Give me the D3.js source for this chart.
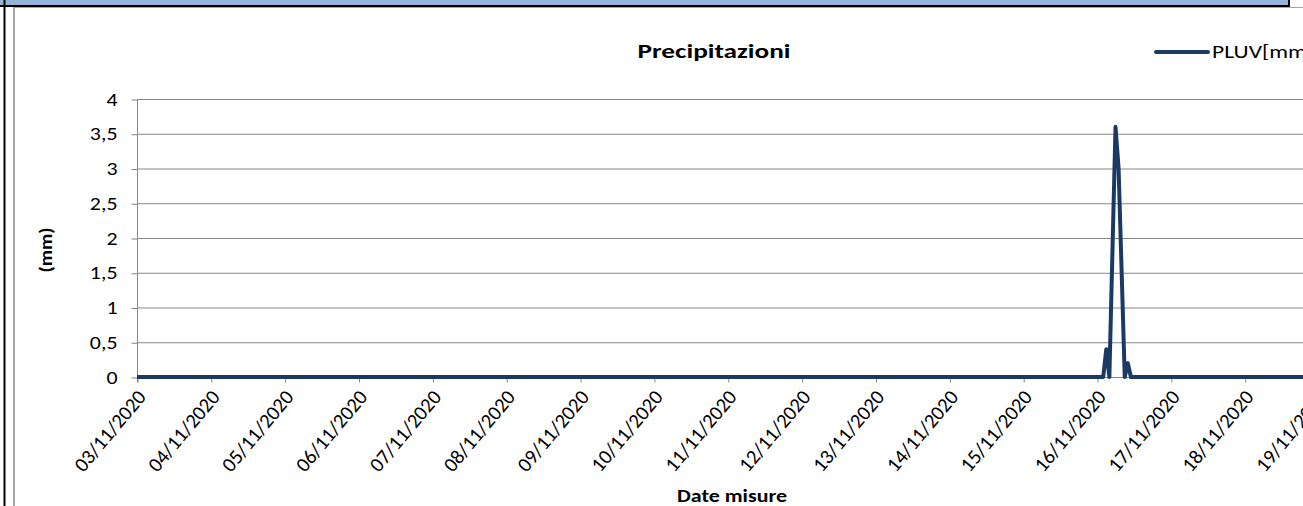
<!DOCTYPE html>
<html><head><meta charset="utf-8">
<script src="https://cdn.jsdelivr.net/npm/d3@7/dist/d3.min.js"></script>
<style>
html,body{margin:0;padding:0;background:#fff;overflow:hidden;}
svg{display:block;font-family:Carlito,Calibri,Lato,"Open Sans",sans-serif;}
</style></head>
<body>
<svg id="c" width="1303" height="506"></svg>
<script>
// ---- data ----
const chartTitle = "Precipitazioni";
const seriesName = "PLUV[mm]";
const yTitle = "(mm)";
const xTitle = "Date misure";
const times = ["2020-11-03T00:00","2020-11-16T02:00","2020-11-16T03:00","2020-11-16T04:00","2020-11-16T06:00","2020-11-16T07:00","2020-11-16T09:00","2020-11-16T10:00","2020-11-16T11:00","2020-11-19T12:00"];
const values = [0,0,0.4,0,3.6,3.0,0,0.2,0,0];
const yTicks = [0,0.5,1,1.5,2,2.5,3,3.5,4];
const xTickDates = ["2020-11-03","2020-11-04","2020-11-05","2020-11-06","2020-11-07","2020-11-08","2020-11-09","2020-11-10","2020-11-11","2020-11-12","2020-11-13","2020-11-14","2020-11-15","2020-11-16","2020-11-17","2020-11-18","2020-11-19"];

const svg = d3.select("#c");
const parse = d3.timeParse("%Y-%m-%dT%H:%M");
const parseD = d3.timeParse("%Y-%m-%d");
const fmt = d3.timeFormat("%d/%m/%Y");
const data = times.map((t,i)=>({t:parse(t), v:values[i]}));

// frame
svg.append("rect").attr("x",0).attr("y",0).attr("width",1289).attr("height",5).attr("fill","#95b3d7");
svg.append("rect").attr("x",0).attr("y",5).attr("width",1290).attr("height",2).attr("fill","#000");
svg.append("rect").attr("x",1288).attr("y",0).attr("width",2).attr("height",7).attr("fill","#000");
svg.append("rect").attr("x",3.5).attr("y",0).attr("width",2).attr("height",506).attr("fill","#000");
svg.append("rect").attr("x",13).attr("y",7).attr("width",1290).attr("height",1).attr("fill","#a6a6a6");
svg.append("rect").attr("x",13).attr("y",7).attr("width",2).attr("height",499).attr("fill","#a6a6a6");

// scales
const x0 = parseD(xTickDates[0]), x1 = parseD(xTickDates[xTickDates.length-1]);
const x = d3.scaleTime().domain([x0,x1]).range([137, 137+16*73.85]);
const y = d3.scaleLinear().domain([0,4]).range([377, 99]);

// gridlines
svg.append("g").selectAll("line").data(yTicks.filter(d=>d>0)).join("line")
  .attr("x1",137).attr("x2",1303).attr("y1",d=>y(d)+0.5).attr("y2",d=>y(d)+0.5)
  .attr("stroke","#868686").attr("stroke-width",1);

// y axis
const yAxis = d3.axisLeft(y).tickValues(yTicks).tickSize(6).tickPadding(0)
  .tickFormat(d=>String(d).replace(".",","));
const gy = svg.append("g").attr("transform","translate(137.5,0.5)").call(yAxis);
gy.select(".domain").attr("stroke","#868686").attr("d","M0,"+(y(4))+"V"+(y(0)+5));
gy.selectAll(".tick line").attr("stroke","#868686");
gy.selectAll(".tick text").attr("font-size",17.5).attr("fill","#000").attr("x",0)
  .attr("font-family","Carlito,Calibri,Lato,sans-serif")
  .attr("transform","translate(-20,0) scale(1.25,1)");

// x axis
const xAxis = d3.axisBottom(x).tickValues(xTickDates.map(parseD)).tickSize(5).tickFormat(fmt);
const gx = svg.append("g").attr("transform","translate(0.5,377.5)").call(xAxis);
gx.select(".domain").attr("stroke","#868686").attr("d","M137,0H1303");
gx.selectAll(".tick line").attr("stroke","#868686");
gx.selectAll(".tick text").attr("font-size",20.5).attr("fill","#000")
  .attr("font-family","Carlito,Calibri,Lato,sans-serif")
  .attr("text-anchor","end").attr("dy",0).attr("y",0)
  .attr("transform","translate(9,20) rotate(-50)");

// line
svg.append("path").datum(data)
  .attr("d", d3.line().x(d=>x(d.t)).y(d=>y(d.v)))
  .attr("fill","none").attr("stroke","#1b3a63").attr("stroke-width",4).attr("stroke-linejoin","round");

// titles
svg.append("text").attr("x",714).attr("y",58).attr("text-anchor","middle")
  .attr("font-weight","bold").attr("font-size",20)
  .attr("textLength",153).attr("lengthAdjust","spacingAndGlyphs").text(chartTitle);
svg.append("text").attr("transform","translate(52,250) rotate(-90)").attr("text-anchor","middle")
  .attr("font-weight","bold").attr("font-size",17)
  .attr("textLength",45).attr("lengthAdjust","spacingAndGlyphs").text(yTitle);
svg.append("text").attr("x",732).attr("y",502).attr("text-anchor","middle")
  .attr("font-weight","bold").attr("font-size",17)
  .attr("textLength",110).attr("lengthAdjust","spacingAndGlyphs").text(xTitle);

// legend
svg.append("line").attr("x1",1156).attr("x2",1208).attr("y1",52).attr("y2",52)
  .attr("stroke","#1b3a63").attr("stroke-width",4).attr("stroke-linecap","round");
svg.append("text").attr("x",1212).attr("y",58).attr("font-size",18)
  .attr("textLength",102).attr("lengthAdjust","spacingAndGlyphs").text(seriesName);
</script>
</body></html>
